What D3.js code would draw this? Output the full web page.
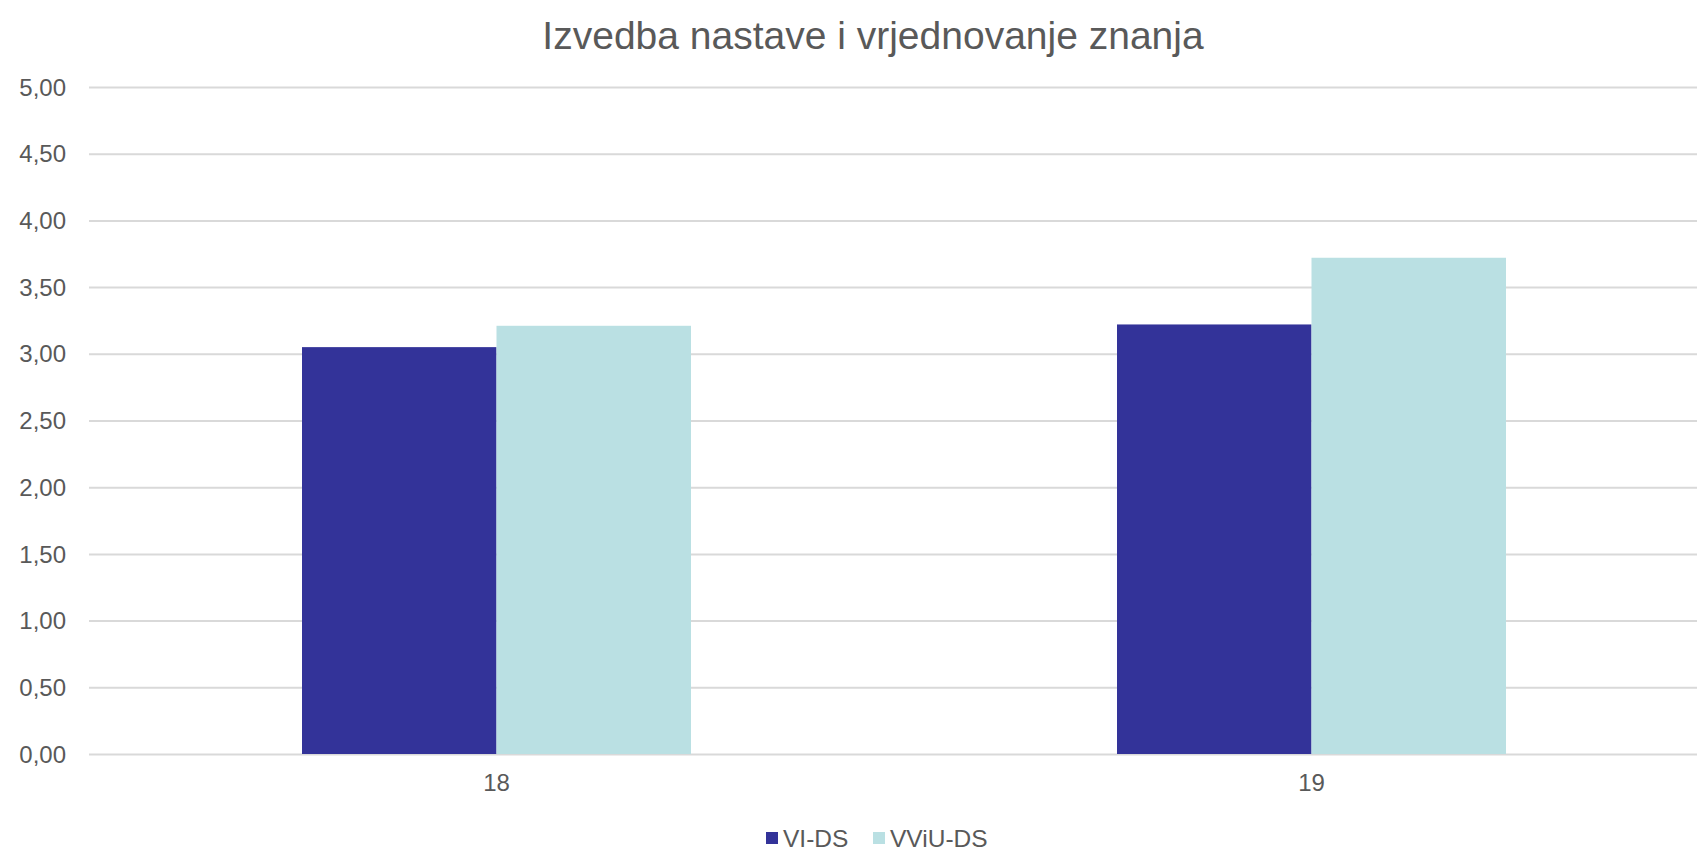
<!DOCTYPE html>
<html>
<head>
<meta charset="utf-8">
<script src="https://cdn.jsdelivr.net/npm/d3@7"></script>
<style>
  body { margin: 0; background: #fff; }
  svg text { font-family: "Liberation Sans", Arial, sans-serif; fill: #595959; }
</style>
</head>
<body>
<div class="chart-container"></div>
<script>
// chart data
var categories = ["18", "19"];
var seriesNames = ["VI-DS", "VViU-DS"];
var viDS = [3.05, 3.22];
var vviuDS = [3.21, 3.72];
var yTicks = [0, 0.5, 1, 1.5, 2, 2.5, 3, 3.5, 4, 4.5, 5];
var colors = ["#333399", "#bae0e3"];

var W = 1697, H = 849;
var margin = {top: 87, right: -22, bottom: 95, left: 89},
    width = W - margin.left - margin.right,
    height = H - margin.top - margin.bottom;

var svg = d3.select(".chart-container").append("svg")
    .attr("width", W)
    .attr("height", H);

svg.append("text")
    .attr("x", 873)
    .attr("y", 49)
    .attr("text-anchor", "middle")
    .style("font-size", "39px")
    .text("Izvedba nastave i vrjednovanje znanja");

var g = svg.append("g")
    .attr("transform", "translate(" + margin.left + "," + margin.top + ")");

var y = d3.scaleLinear().domain([0, 5]).range([height, 0]);

var x0 = d3.scaleBand()
    .domain(categories)
    .range([0, width])
    .paddingInner(0.5227)
    .paddingOuter(0.26135);

var x1 = d3.scaleBand()
    .domain(seriesNames)
    .range([0, x0.bandwidth()]);

// gridlines
var yAxis = d3.axisLeft(y)
    .tickValues(yTicks)
    .tickSize(-width)
    .tickPadding(23)
    .tickFormat(function(d){ return d3.format(".2f")(d).replace(".", ","); });

g.append("g")
    .attr("class", "yaxis")
    .call(yAxis)
    .call(function(s){
        s.select(".domain").remove();
        s.selectAll("line").attr("stroke", "#d9d9d9").attr("stroke-width", 2);
        s.selectAll("text").style("font-size", "24px").attr("dy", "0.34em");
    });

var rows = categories.map(function(c, i){
    return {cat: c, values: [viDS[i], vviuDS[i]]};
});

g.selectAll(".group")
    .data(rows)
    .join("g")
    .attr("class", "group")
    .attr("transform", function(d){ return "translate(" + x0(d.cat) + ",0)"; })
    .selectAll("rect")
    .data(function(d){ return d.values.map(function(v, j){ return {name: seriesNames[j], value: v, idx: j}; }); })
    .join("rect")
    .attr("x", function(d){ return x1(d.name); })
    .attr("width", x1.bandwidth())
    .attr("y", function(d){ return y(d.value); })
    .attr("height", function(d){ return height - y(d.value); })
    .attr("fill", function(d){ return colors[d.idx]; });

var xAxis = d3.axisBottom(x0).tickSize(0).tickPadding(20);
g.append("g")
    .attr("transform", "translate(0," + height + ")")
    .call(xAxis)
    .call(function(s){
        s.select(".domain").remove();
        s.selectAll("text").style("font-size", "24px");
    });

// legend
var legendX = [766, 873];
var legend = svg.selectAll(".legend")
    .data(seriesNames)
    .join("g")
    .attr("class", "legend")
    .attr("transform", function(d, i){ return "translate(" + legendX[i] + ",832)"; });

legend.append("rect")
    .attr("width", 12)
    .attr("height", 12)
    .attr("fill", function(d, i){ return colors[i]; });

legend.append("text")
    .attr("x", 17)
    .attr("y", 15)
    .style("font-size", "24.5px")
    .text(function(d){ return d; });
</script>
</body>
</html>
